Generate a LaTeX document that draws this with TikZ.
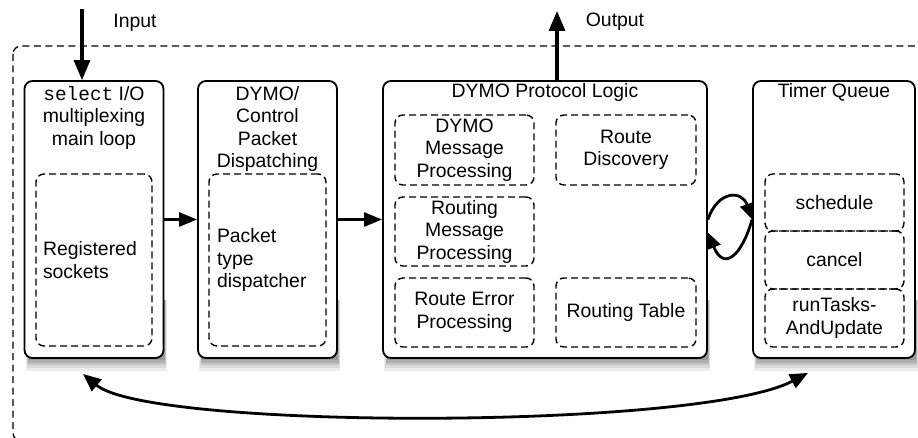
\documentclass[tikz,border=0pt]{standalone}
\usepackage{fontspec}
\setmainfont{Liberation Sans}
\setmonofont{Liberation Mono}
\usetikzlibrary{arrows.meta}
\definecolor{shadeA}{RGB}{236,236,236}
\definecolor{shadeB}{RGB}{218,218,218}
\definecolor{shadeC}{RGB}{198,198,198}
\definecolor{shadeD}{RGB}{176,176,176}
\definecolor{shadeE}{RGB}{154,154,154}

\begin{document}
\begin{tikzpicture}[x=1pt,y=-1pt,
  font=\fontsize{19.4}{22.5}\selectfont,
  module/.style={draw, line width=1.8pt, rounded corners=8pt, fill=white,
    minimum width=#1, minimum height=277pt, inner sep=0pt},
  subpart/.style={draw, line width=1.4pt, dash pattern=on 7pt off 4pt, rounded corners=8pt,
    inner sep=0pt, align=center},
  boxtitle/.style={inner sep=0pt, align=center},
  frame/.style={draw, line width=1.3pt, dash pattern=on 7pt off 4.5pt, rounded corners=8pt},
  flow/.style={line width=2.6pt, -{Triangle[length=18pt,width=14pt]}},
  bigflow/.style={line width=3.2pt, -{Triangle[length=20pt,width=16pt]}},
  loop/.style={line width=2.8pt, -{Triangle[length=16pt,width=14pt]}},
  both/.style={line width=2.8pt, {Triangle[length=18pt,width=15pt]}-{Triangle[length=18pt,width=15pt]}}]

\useasboundingbox (0,0) rectangle (918,438);

% dashed system boundary
\draw[frame] (13,46) rectangle (935,441);

% soft shadows below the modules, lightest band first
\fill[shadeA] (25.5,300) rectangle (166.5,371);
\fill[shadeB] (26.5,300) rectangle (166,368);
\fill[shadeC] (27,300) rectangle (165.5,365);
\fill[shadeD] (27.5,300) rectangle (165,362.5);
\fill[shadeE] (28,300) rectangle (164.5,360);

\fill[shadeA] (199,300) rectangle (340,371);
\fill[shadeB] (200,300) rectangle (339.5,368);
\fill[shadeC] (200.5,300) rectangle (339,365);
\fill[shadeD] (201,300) rectangle (338.5,362.5);
\fill[shadeE] (201.5,300) rectangle (338,360);

\fill[shadeA] (384,300) rectangle (710,371);
\fill[shadeB] (385,300) rectangle (709.5,368);
\fill[shadeC] (385.5,300) rectangle (709,365);
\fill[shadeD] (386,300) rectangle (708.5,362.5);
\fill[shadeE] (386.5,300) rectangle (708,360);

\fill[shadeA] (754,300) rectangle (918,371);
\fill[shadeB] (755,300) rectangle (917.5,368);
\fill[shadeC] (755.5,300) rectangle (917,365);
\fill[shadeD] (756,300) rectangle (916.5,362.5);
\fill[shadeE] (756.5,300) rectangle (916,360);

% main modules
\node[module=139pt] (b1) at (94,219.5) {};
\node[module=139pt] (b2) at (267.5,219.5) {};
\node[module=324pt] (b3) at (545,219.5) {};
\node[module=162pt] (b4) at (834,219.5) {};

% module titles
\node[boxtitle, anchor=north] (t1) at ([yshift=-6pt]b1.north) {\texttt{select} I/O\\multiplexing\\main loop};
\node[boxtitle, anchor=north] (t2) at ([yshift=-6pt]b2.north) {DYMO/\\Control\\Packet\\Dispatching};
\node[boxtitle, anchor=base] (t3) at (545,98) {DYMO Protocol Logic};
\node[boxtitle, anchor=base] (t4) at (834,98) {Timer Queue};

% inner parts
\node[subpart, minimum width=116pt, minimum height=172pt, text width=102pt, align=left, inner xsep=7pt]
  (sock) at (94,260) {Registered\\sockets};
\node[subpart, minimum width=117pt, minimum height=172pt, text width=101pt, align=left, inner xsep=8pt]
  (disp) at (267.5,260) {Packet\\type\\dispatcher};

\node[subpart, minimum width=139pt, minimum height=70pt] (dm) at (464.5,150) {DYMO\\Message\\Processing};
\node[subpart, minimum width=140pt, minimum height=70pt] (rd) at (626,150) {Route\\Discovery};
\node[subpart, minimum width=139pt, minimum height=69pt] (rm) at (464.5,231.5) {Routing\\Message\\Processing};
\node[subpart, minimum width=139pt, minimum height=69pt] (re) at (464.5,312.5) {Route Error\\Processing};
\node[subpart, minimum width=140pt, minimum height=69pt] (rt) at (626,312.5) {Routing Table};

\node[subpart, minimum width=139pt, minimum height=57pt] (sch) at (834.5,202.5) {schedule};
\node[subpart, minimum width=139pt, minimum height=58pt] (can) at (834.5,260) {cancel};
\node[subpart, minimum width=139pt, minimum height=58pt] (run) at (834.5,318) {runTasks-\\AndUpdate};

% external input / output
\coordinate (in) at (82,9);
\coordinate (out) at (557,11);
\node[anchor=base] (inl) at (135,28) {Input};
\node[anchor=base] (outl) at (615,27) {Output};
\draw[bigflow] (in) -- (in |- b1.north);
\draw[bigflow] (out |- b3.north) -- (out);

% packet path
\draw[flow] (b1.east) -- (b2.west);
\draw[flow] (b2.east) -- (b3.west);

% timer interaction
\draw[loop] (b3.east) .. controls (718,190) and (742,190) .. (b4.west);
\draw[loop] (b4.west) .. controls (742,255) and (724,272) .. ([yshift=-13pt]b3.east);

% timer <-> main loop
\draw[both] ([xshift=-11pt,yshift=-15pt]b1.south) .. controls (150,430) and (700,430) .. ([xshift=-26pt,yshift=-14pt]b4.south);

\end{tikzpicture}
\end{document}
